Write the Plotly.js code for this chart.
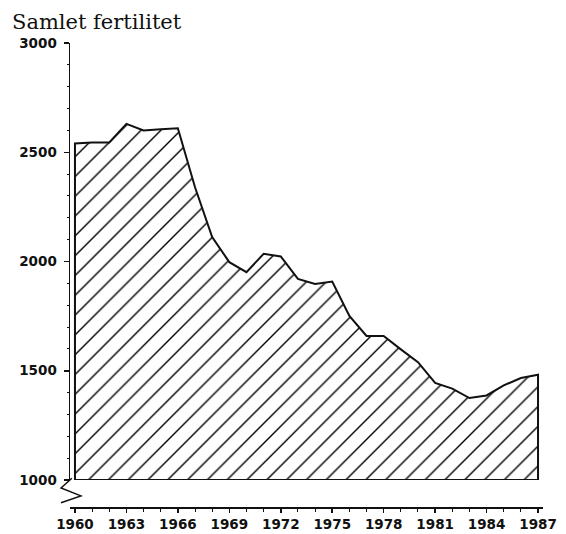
<!DOCTYPE html>
<html>
<head>
<meta charset="utf-8">
<script src="https://cdn.plot.ly/plotly-3.0.1.min.js"></script>
<style>
  html, body { margin: 0; padding: 0; background: #fff; }
  #chart { width: 566px; height: 534px; }
</style>
</head>
<body>
<div id="chart"></div>
<script>
// Samlet fertilitet (per 1000 women), 1960-1987
const years = [1960, 1961, 1962, 1963, 1964, 1965, 1966, 1967, 1968, 1969,
               1970, 1971, 1972, 1973, 1974, 1975, 1976, 1977, 1978, 1979,
               1980, 1981, 1982, 1983, 1984, 1985, 1986, 1987];
const fertility = [2540, 2545, 2545, 2630, 2600, 2605, 2610, 2340, 2112, 1997,
                   1951, 2035, 2023, 1920, 1897, 1908, 1751, 1659, 1659, 1598,
                   1539, 1444, 1418, 1375, 1387, 1433, 1467, 1482];
const BASE = 1000;
const yTicks = [1000, 1500, 2000, 2500, 3000];
const xTicks = [1960, 1963, 1966, 1969, 1972, 1975, 1978, 1981, 1984, 1987];

const INK = '#111';
const TICK_FONT = { family: 'DejaVu Sans', size: 13.5, color: INK, weight: 'bold' };

// closed polygon: drop to the base at both ends so the outline is drawn all round
const xs = [years[0], ...years, years[years.length - 1], years[0]];
const ys = [BASE, ...fertility, BASE, BASE];

const trace = {
    x: xs,
    y: ys,
    type: 'scatter',
    mode: 'lines',
    fill: 'toself',
    fillcolor: 'rgba(0,0,0,0)',
    fillpattern: { shape: '/', size: 14, solidity: 0.1, fgcolor: '#000', bgcolor: '#fff' },
    line: { color: INK, width: 2 },
    hoverinfo: 'skip',
};

const layout = {
    width: 566,
    height: 534,
    paper_bgcolor: '#fff',
    plot_bgcolor: '#fff',
    margin: { t: 43, r: 23, b: 27, l: 70 },
    showlegend: false,
    title: {
        text: 'Samlet fertilitet',
        font: { family: 'DejaVu Serif', size: 21, color: INK },
        x: 12 / 566, xanchor: 'left', xref: 'container',
        y: 1 - 29 / 534, yanchor: 'bottom', yref: 'container',
    },
    xaxis: {
        range: [1959.71, 1987.29],
        anchor: 'free',
        position: 0,
        showgrid: false,
        zeroline: false,
        showline: true,
        linecolor: INK,
        linewidth: 1.5,
        tickmode: 'array',
        tickvals: xTicks,
        ticktext: xTicks.map(String),
        ticks: 'outside',
        ticklen: 4,
        tickwidth: 1.5,
        tickcolor: INK,
        tickfont: TICK_FONT,
        minor: { dtick: 1, ticks: 'outside', ticklen: 3, tickwidth: 1, tickcolor: INK, showgrid: false },
        fixedrange: true,
    },
    yaxis: {
        domain: [27 / 464, 1],
        range: [1000, 3000],
        showgrid: false,
        zeroline: false,
        showline: true,
        linecolor: INK,
        linewidth: 1.5,
        tickmode: 'array',
        tickvals: yTicks,
        ticktext: yTicks.map(String),
        ticks: 'outside',
        ticklen: 5,
        tickwidth: 1.5,
        tickcolor: INK,
        tickfont: TICK_FONT,
        ticklabelstandoff: 4,
        minor: { dtick: 100, ticks: 'outside', ticklen: 2, tickwidth: 1, tickcolor: INK, showgrid: false },
        fixedrange: true,
    },
    shapes: [
        // axis break mark under the y axis
        {
            type: 'path', xref: 'paper', yref: 'paper',
            path: 'M 0.004 0.062 L -0.019 0.041 L 0.023 0.024 L -0.019 0.009',
            line: { color: INK, width: 1.5 },
        },
    ],
};

Plotly.newPlot('chart', [trace], layout, { staticPlot: true, displayModeBar: false });
</script>
</body>
</html>
